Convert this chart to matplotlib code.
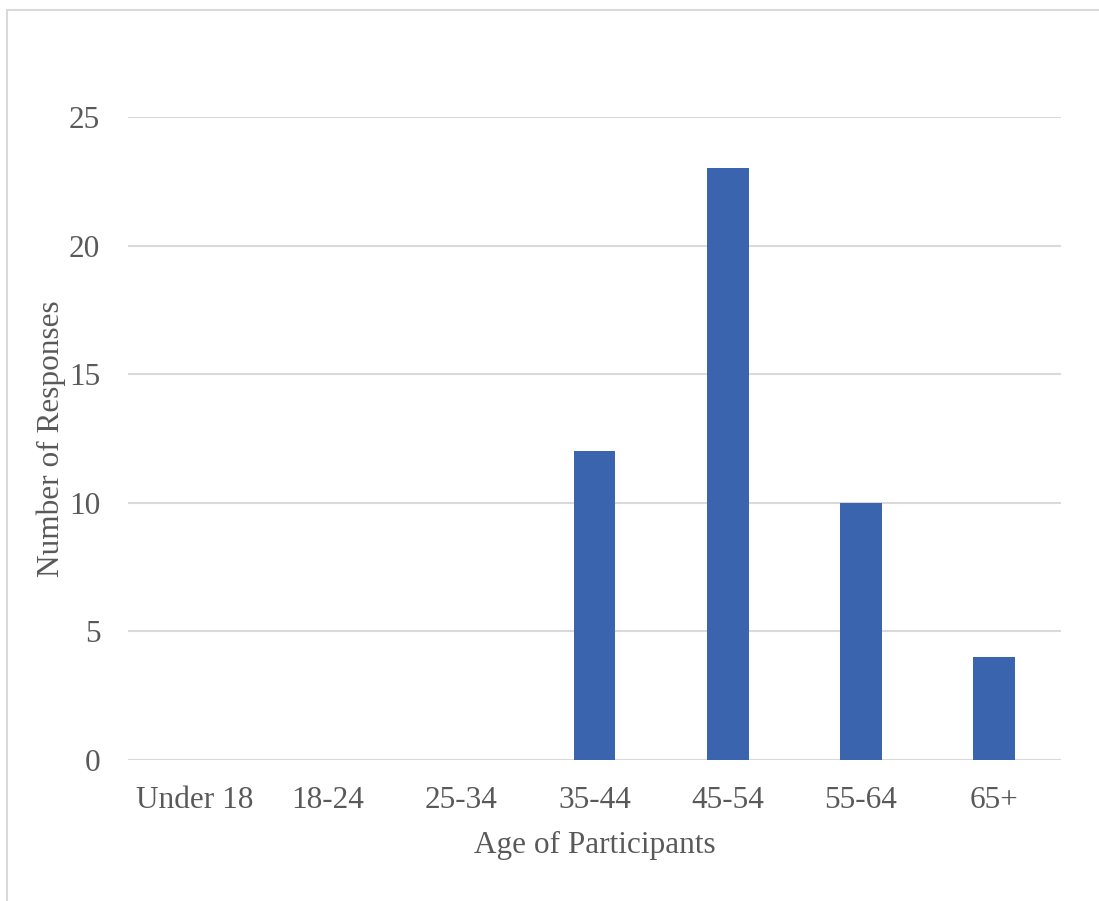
import matplotlib.pyplot as plt
from matplotlib.patches import Rectangle

ages = ["Under 18", "18-24", "25-34", "35-44", "45-54", "55-64", "65+"]
counts = [0, 0, 0, 12, 23, 10, 4]
yticks = [0, 5, 10, 15, 20, 25]

plt.rcParams['font.family'] = ['Liberation Serif', 'DejaVu Serif']
grey = "#595959"

fig = plt.figure(figsize=(10.99, 9.01), dpi=100)
ax = fig.add_axes([0.1165, 0.1565, 0.8489, 0.7136])

x = range(len(ages))
ax.bar(x, counts, width=0.315, color="#3A64AD", zorder=3)

ax.set_xlim(-0.5, len(ages) - 0.5)
ax.set_ylim(0, 25)
ax.set_yticks(yticks)
ax.set_xticks(list(x))
ax.set_xticklabels(ages)
ax.grid(axis="y", color="#d9d9d9", linewidth=1.5, zorder=0)
for s in ["top", "right", "left", "bottom"]:
    ax.spines[s].set_visible(False)
ax.tick_params(axis="both", length=0, labelsize=22.5, labelcolor=grey)
ax.tick_params(axis="y", pad=20)
ax.tick_params(axis="x", pad=19)

ax.set_xlabel("Age of Participants", fontsize=22.5, color=grey, labelpad=11)
ax.set_ylabel("Number of Responses", fontsize=22.5, color=grey, labelpad=2)

# chart frame
fig.patches.append(Rectangle((7 / 1099, -0.1), 1.2, 1 - 10 / 901 + 0.1,
                             transform=fig.transFigure, fill=False,
                             edgecolor="#d9d9d9", linewidth=1.5))

fig.savefig("out.png", dpi=100)
